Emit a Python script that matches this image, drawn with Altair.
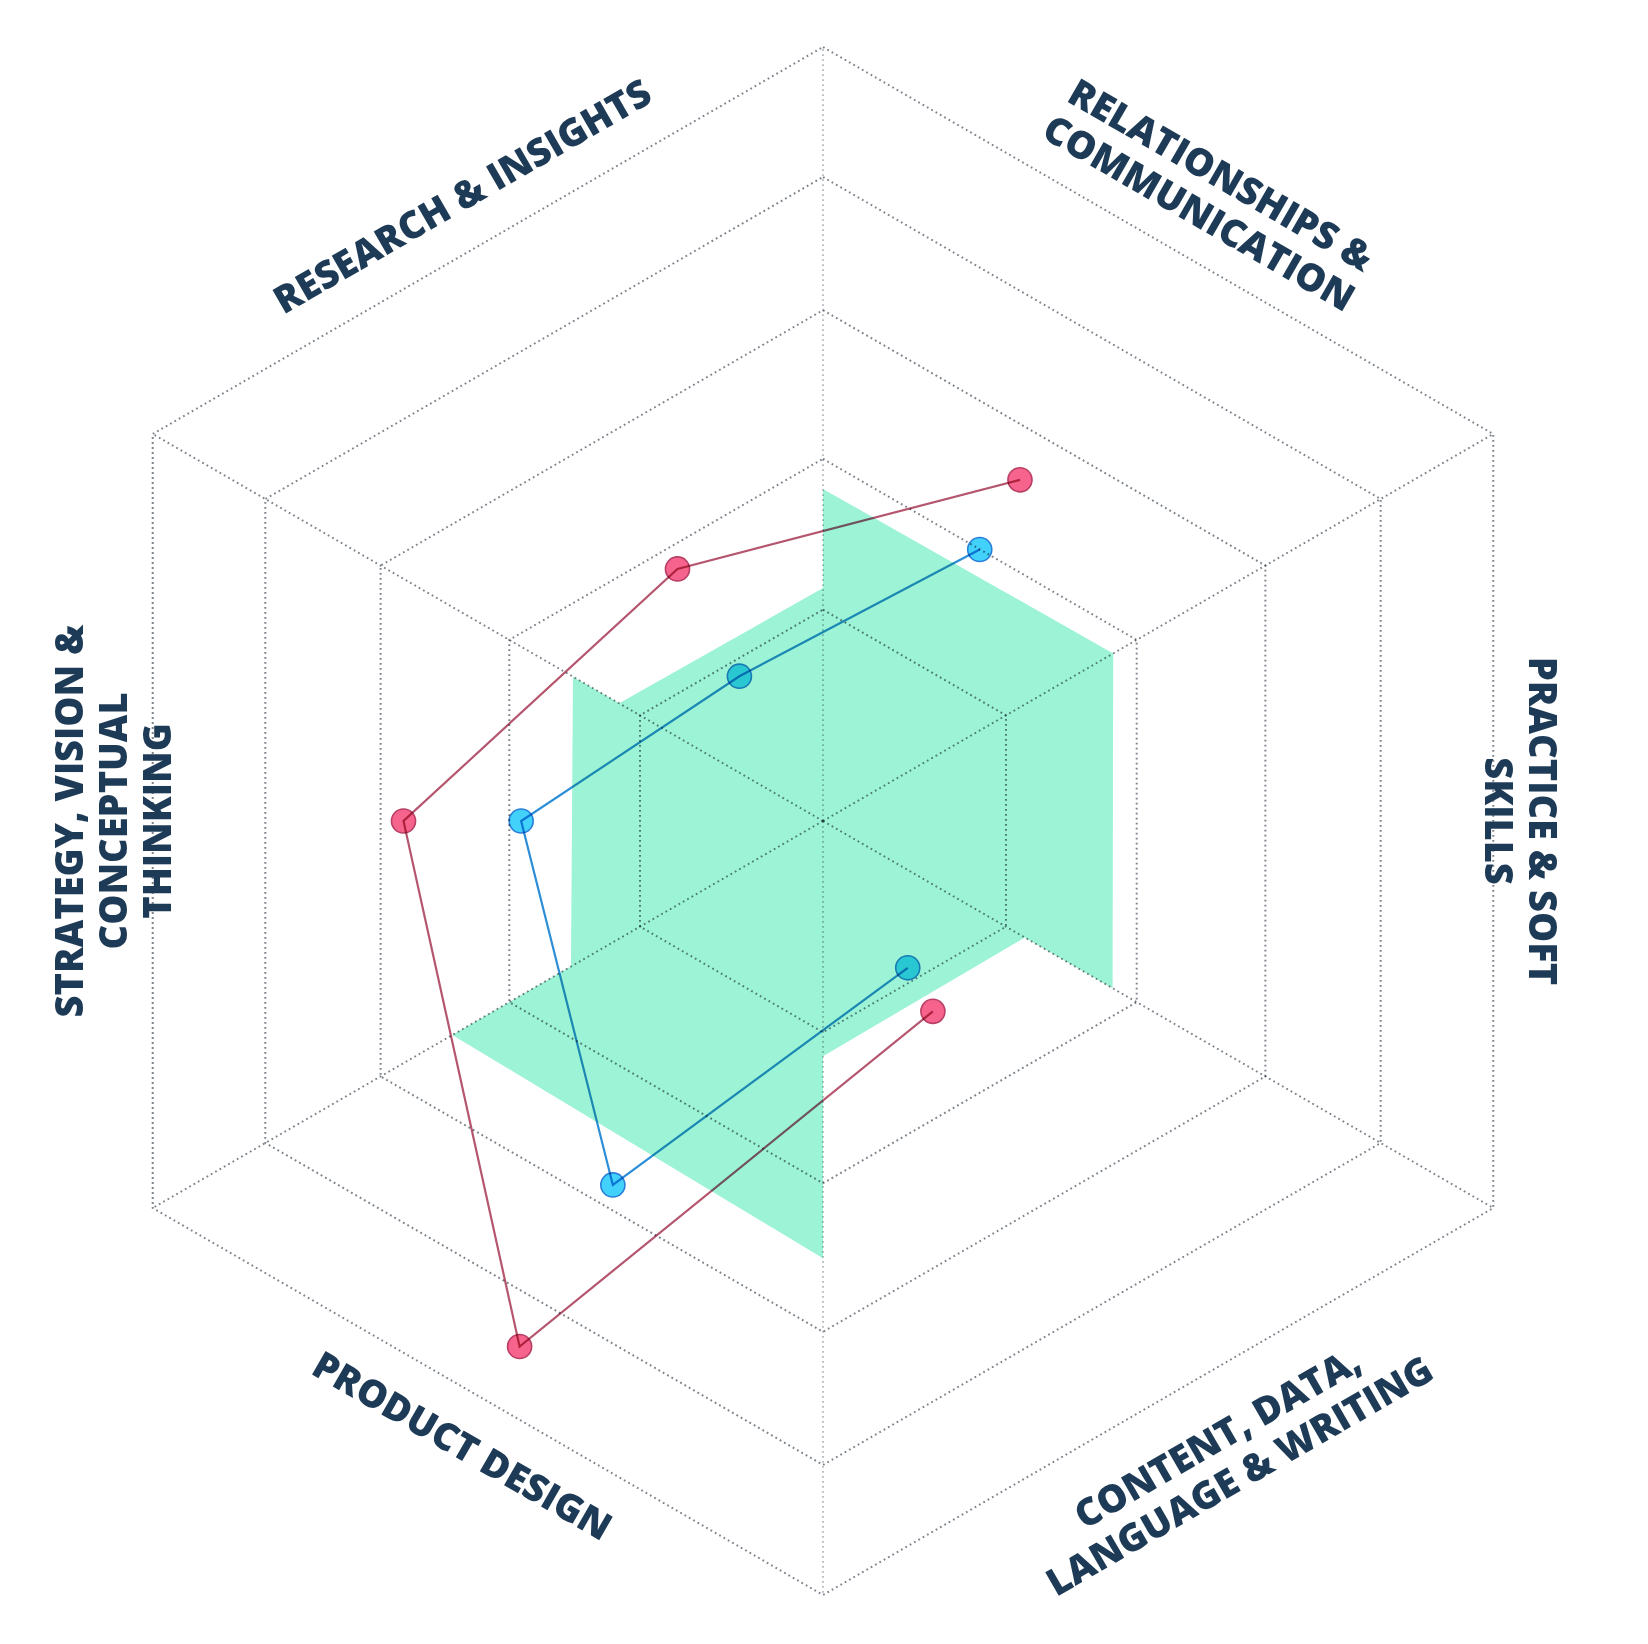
import altair as alt
import pandas as pd

# ---------------- data ----------------
CATEGORIES = [
    "PRACTICE & SOFT SKILLS",
    "RELATIONSHIPS & COMMUNICATION",
    "RESEARCH & INSIGHTS",
    "STRATEGY, VISION & CONCEPTUAL THINKING",
    "PRODUCT DESIGN",
    "CONTENT, DATA, LANGUAGE & WRITING",
]
CATEGORY_ANGLES = [0, 60, 120, 180, 240, 300]  # degrees, counter-clockwise from the right
LABEL_LINES = [
    ["PRACTICE & SOFT", "SKILLS"],
    ["RELATIONSHIPS &", "COMMUNICATION"],
    ["RESEARCH & INSIGHTS"],
    ["STRATEGY, VISION &", "CONCEPTUAL", "THINKING"],
    ["PRODUCT DESIGN"],
    ["CONTENT, DATA,", "LANGUAGE & WRITING"],
]

SERIES = ["Profile A", "Profile B"]
PINK_VALUES = [None, 50.9, 37.6, 54.2, 78.4, 28.4]
BLUE_VALUES = [None, 40.5, 21.6, 39.0, 54.3, 21.9]

GRID_LEVELS = [27.3, 46.8, 66.0, 83.2, 100.0]
SPOKE_ANGLES = [90, 30, -30, -90, -150, 150]

TARGET_ANGLES = [90, 30, -30, -30, -90, -90, 210, 210, 150, 150, 90]
TARGET_VALUES = [42.9, 43.3, 43.2, 30.1, 30.4, 56.5, 55.3, 37.6, 37.3, 30.4, 30.1]

# ---------------- style / layout ----------------
LABEL_ROTATION = [90, 30, 330, 270, 30, 330]
LABEL_RADIUS = [92.6, 97.7, 92.9, 97.0, 93.5, 94.8]  # radial position of each label's first line
LABEL_SHIFT = [0, 2.8, 0, 0, 0, 4.3]                 # shift along the label's own baseline

GREEN = "#9cf3d5"
GRID = "#7d848c"
GRID_LIGHT = "#bcc0c5"
TEXT = "#1d3a56"
PINK_LINE, PINK_FILL, PINK_EDGE = "#b5566f", "#f6648e", "#b93f65"
BLUE_LINE, BLUE_FILL, BLUE_EDGE = "#2b8ed6", "#42d1fb", "#2a80d8"

W, H = 1632, 1628
XDOM = [-105.30, 105.56]
YDOM = [-105.30, 105.04]

# ---------------- tables ----------------
rings = pd.DataFrame(
    [{"ring": i, "k": k, "angle": a, "r": lvl}
     for i, lvl in enumerate(GRID_LEVELS) for k, a in enumerate(SPOKE_ANGLES)]
)
spokes = pd.DataFrame(
    [{"spoke": a, "k": k, "angle": a, "r": rr}
     for a in SPOKE_ANGLES for k, rr in enumerate([0, GRID_LEVELS[-1]])]
)
target = pd.DataFrame(
    [{"k": k, "angle": a, "r": v} for k, (a, v) in enumerate(zip(TARGET_ANGLES, TARGET_VALUES))]
)
rows = []
for s, vals in zip(SERIES, [PINK_VALUES, BLUE_VALUES]):
    for i, (a, v) in enumerate(zip(CATEGORY_ANGLES, vals)):
        if v is not None:
            rows.append({"series": s, "k": i, "angle": a, "r": v, "category": CATEGORIES[i]})
series_df = pd.DataFrame(rows)
labels = pd.DataFrame(
    [{"angle": a, "r": lr, "shift": sh, "text": "\n".join(lines), "rot": rot}
     for a, lr, sh, lines, rot in zip(CATEGORY_ANGLES, LABEL_RADIUS, LABEL_SHIFT, LABEL_LINES, LABEL_ROTATION)]
)

calc = dict(
    x="datum.r * cos(datum.angle * PI / 180)",
    y="datum.r * sin(datum.angle * PI / 180)",
)
label_calc = dict(
    x="datum.r * cos(datum.angle * PI / 180) + datum.shift * cos(-datum.rot * PI / 180)",
    y="datum.r * sin(datum.angle * PI / 180) + datum.shift * sin(-datum.rot * PI / 180)",
)
X = alt.X("x:Q", scale=alt.Scale(domain=XDOM, nice=False, zero=False), axis=None)
Y = alt.Y("y:Q", scale=alt.Scale(domain=YDOM, nice=False, zero=False), axis=None)

target_layer = alt.Chart(target).transform_calculate(**calc).mark_line(
    interpolate="linear-closed", fill=GREEN, strokeOpacity=0
).encode(x=X, y=Y, order=alt.Order("k:Q"))

ring_layer = alt.Chart(rings).transform_calculate(**calc).mark_line(
    interpolate="linear-closed", stroke=GRID, strokeWidth=2, strokeDash=[1.8, 3.2], blend="multiply"
).encode(x=X, y=Y, detail="ring:N", order=alt.Order("k:Q"))

spoke_layer = alt.Chart(spokes).transform_calculate(**calc).mark_line(
    strokeWidth=2, strokeDash=[1.8, 3.2], blend="multiply"
).encode(
    x=X, y=Y, detail="spoke:N", order=alt.Order("k:Q"),
    color=alt.condition("abs(datum.angle) == 90", alt.value(GRID_LIGHT), alt.value(GRID)),
)

line_layer = alt.Chart(series_df).transform_calculate(**calc).mark_line(
    strokeWidth=2.2, blend="multiply"
).encode(
    x=X, y=Y, order=alt.Order("k:Q"),
    color=alt.Color("series:N", scale=alt.Scale(domain=SERIES, range=[PINK_LINE, BLUE_LINE]), legend=None),
)

point_layer = alt.Chart(series_df).transform_calculate(**calc).mark_point(
    filled=True, size=580, strokeWidth=1.6, opacity=1, blend="multiply"
).encode(
    x=X, y=Y,
    fill=alt.Fill("series:N", scale=alt.Scale(domain=SERIES, range=[PINK_FILL, BLUE_FILL]), legend=None),
    stroke=alt.Stroke("series:N", scale=alt.Scale(domain=SERIES, range=[PINK_EDGE, BLUE_EDGE]), legend=None),
    tooltip=["series:N", "category:N", "r:Q"],
)

label_layer = alt.Chart(labels).transform_calculate(**label_calc).mark_text(
    font="Open Sans", fontWeight=800, fontSize=38, lineHeight=44, lineBreak="\n",
    align="center", baseline="middle", color=TEXT,
).encode(x=X, y=Y, text="text:N", angle=alt.Angle("rot:Q", scale=None))

chart = alt.layer(
    target_layer, ring_layer, spoke_layer, line_layer, point_layer, label_layer
).properties(
    width=W, height=H, padding=0, autosize=alt.AutoSizeParams(type="none")
).configure_view(stroke=None)

chart.save("out.html", embed_options={"renderer": "svg", "actions": False})
